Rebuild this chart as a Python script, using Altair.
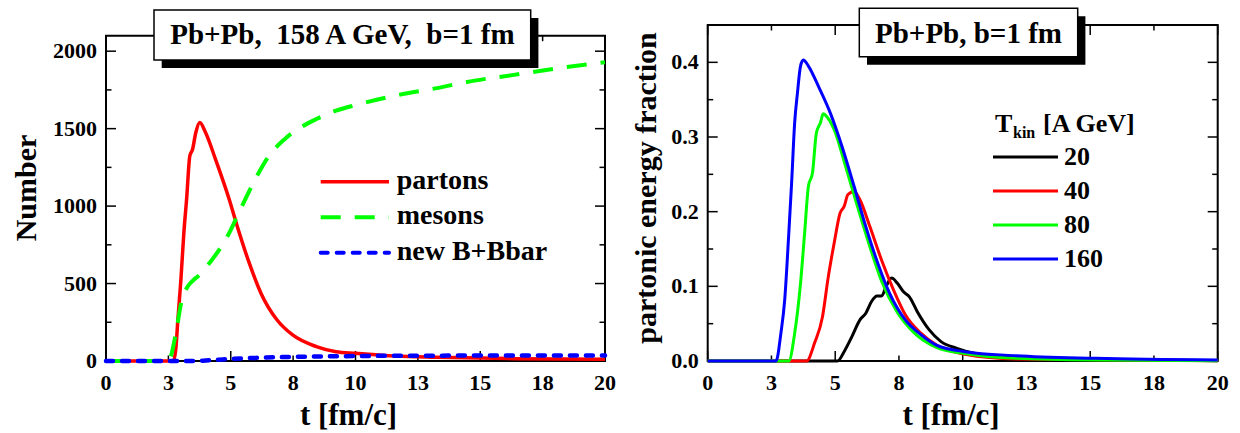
import altair as alt
import pandas as pd

# ---------------- data ----------------
# left panel: Pb+Pb 158 A GeV, b=1 fm
partons_t = [0, 1, 2, 2.7, 2.8, 2.88, 3.0, 3.12, 3.23, 3.36, 3.47, 3.6, 3.76, 3.99, 4.39, 4.94,
             5.26, 5.74, 6.21, 6.85, 7.48, 8.43, 9.22, 10.0, 11.6, 13.2, 16.4, 20]
partons_n = [0, 0, 0, 0, 80, 266, 520, 827, 1043, 1324, 1367, 1475, 1540, 1475, 1302, 1043,
             870, 633, 438, 266, 168, 93, 60, 50, 32, 24, 15, 11]

mesons_t = [0, 1, 2, 2.5, 2.57, 2.8, 3.04, 3.28, 3.52, 3.68, 4.15, 4.63, 4.94, 5.26, 5.58, 6.05,
            6.53, 7.16, 7.8, 8.43, 9.22, 10.0, 11.6, 13.2, 14.77, 16.35, 17.94, 20]
mesons_n = [0, 0, 0, 0, 17, 180, 395, 482, 525, 546, 633, 741, 827, 935, 1043, 1194,
            1324, 1432, 1508, 1562, 1616, 1652, 1713, 1760, 1810, 1847, 1886, 1929]

bbar_t = [0, 3.5, 4.0, 4.5, 5.0, 6.0, 7.0, 8.0, 10.0, 12.0, 15.0, 20.0]
bbar_n = [0, 0, 3, 8, 13, 20, 25, 28, 32, 34, 35, 36]

# right panel: partonic energy fraction, T_kin = 20, 40, 80, 160 A GeV
t20 = [0, 5.09, 5.35, 5.66, 5.97, 6.2, 6.43, 6.64, 6.82, 7.0, 7.21, 7.44, 7.67, 7.91, 8.22,
       8.68, 9.15, 9.77, 10.5, 12.1, 20]
f20 = [0, 0, 0.0125, 0.033, 0.055, 0.064, 0.080, 0.087, 0.087, 0.100, 0.111, 0.104, 0.093,
       0.086, 0.066, 0.042, 0.026, 0.017, 0.010, 0.005, 0.0005]

t40 = [0, 3.88, 4.19, 4.5, 4.73, 4.96, 5.19, 5.35, 5.5, 5.74, 5.97, 6.36, 6.82, 7.29, 7.75,
       8.37, 8.99, 10.08, 12.1, 20]
f40 = [0, 0, 0.024, 0.059, 0.113, 0.158, 0.198, 0.207, 0.223, 0.227, 0.216, 0.180, 0.135,
       0.095, 0.062, 0.037, 0.021, 0.009, 0.0027, 0.0004]

t80 = [0, 3.18, 3.41, 3.64, 3.8, 3.95, 4.11, 4.26, 4.42, 4.53, 4.65, 4.96, 5.43, 5.89, 6.36,
       6.82, 7.44, 8.06, 8.99, 10.08, 12.1, 15.2, 20]
f80 = [0, 0, 0.037, 0.104, 0.171, 0.234, 0.252, 0.305, 0.319, 0.331, 0.328, 0.310, 0.258,
       0.205, 0.153, 0.107, 0.065, 0.039, 0.018, 0.010, 0.0036, 0.0013, 0.0005]

t160 = [0, 2.68, 2.87, 3.02, 3.18, 3.29, 3.41, 3.52, 3.64, 3.75, 3.95, 4.34, 4.81, 5.27, 5.74,
        6.2, 6.67, 7.13, 7.75, 8.37, 8.99, 10.08, 12.1, 15.2, 20]
f160 = [0, 0, 0.037, 0.082, 0.171, 0.238, 0.319, 0.359, 0.395, 0.403, 0.395, 0.368, 0.332,
        0.287, 0.234, 0.180, 0.131, 0.091, 0.055, 0.035, 0.021, 0.0125, 0.007, 0.0036, 0.0013]

# tick values / labels
x_label_vals = [0, 2.5, 5, 7.5, 10, 12.5, 15, 17.5, 20]
x_labels = ["0", "3", "5", "8", "10", "13", "15", "18", "20"]
x_major = [0, 5, 10, 15, 20]
x_minor = [2.5, 7.5, 12.5, 17.5]
yl_major = [0, 500, 1000, 1500, 2000]
yl_labels = ["0", "500", "1000", "1500", "2000"]
yl_minor = [250, 750, 1250, 1750]
yr_major = [0, 0.1, 0.2, 0.3, 0.4]
yr_labels = ["0.0", "0.1", "0.2", "0.3", "0.4"]
yr_minor = [0.05, 0.15, 0.25, 0.35]

left_legend = ["partons", "mesons", "new B+Bbar"]
right_legend = ["20", "40", "80", "160"]
left_title = "Pb+Pb,\u00a0 158 A GeV,\u00a0 b=1 fm"
right_title = "Pb+Pb, b=1 fm"
x_title = "t [fm/c]"
yl_title = "Number"
yr_title = "partonic energy fraction"

# ---------------- layout / styling ----------------
FONT = "Liberation Serif"
RED, GREEN, BLUE, BLACK = "#ff0000", "#00ff00", "#0000ff", "#000000"
MESON_DASH = [20, 14]
BBAR_DASH = [7, 9]

# plot rectangles in page pixels: (left, right, top, bottom)
PL = (106, 605, 35.7, 361)
PR = (707.7, 1217.7, 25, 361)

one = pd.DataFrame({"k": [0]})


def scales(P, ydom):
    xs = alt.Scale(domain=[0, 20], range=[P[0], P[1]], nice=False, zero=False)
    ys = alt.Scale(domain=ydom, range=[P[3], P[2]], nice=False, zero=False)
    return xs, ys


def frame(P):
    return alt.Chart(one).mark_rect(fill="white", stroke="black", strokeWidth=2).encode(
        x=alt.value(P[0]), x2=alt.value(P[1]), y=alt.value(P[2]), y2=alt.value(P[3]))


def tick_layers(P, xs, ys, ymaj, ymin):
    layers = []
    for vals, L in ((x_major, 10), (x_minor, 5.5)):
        d = alt.Chart(pd.DataFrame({"t": vals}))
        layers.append(d.mark_rule(color="black", strokeWidth=1.5).encode(
            x=alt.X("t:Q", scale=xs, axis=None), y=alt.value(P[3]), y2=alt.value(P[3] - L)))
        layers.append(d.mark_rule(color="black", strokeWidth=1.5).encode(
            x=alt.X("t:Q", scale=xs, axis=None), y=alt.value(P[2]), y2=alt.value(P[2] + L)))
    for vals, L in ((ymaj, 10), (ymin, 5.5)):
        d = alt.Chart(pd.DataFrame({"v": vals}))
        layers.append(d.mark_rule(color="black", strokeWidth=1.5).encode(
            y=alt.Y("v:Q", scale=ys, axis=None), x=alt.value(P[0]), x2=alt.value(P[0] + L)))
        layers.append(d.mark_rule(color="black", strokeWidth=1.5).encode(
            y=alt.Y("v:Q", scale=ys, axis=None), x=alt.value(P[1]), x2=alt.value(P[1] - L)))
    return layers


def txt(text, x, y, size, align="left", baseline="alphabetic", angle=None):
    kw = dict(text=text, font=FONT, fontSize=size, fontWeight="bold", color="black",
              align=align, baseline=baseline)
    if angle is not None:
        kw["angle"] = angle
    return alt.Chart(one).mark_text(**kw).encode(x=alt.value(x), y=alt.value(y))


def axis_labels(P, xs, ys, ymaj, ylabs, xtitle_cx):
    xl = alt.Chart(pd.DataFrame({"t": x_label_vals, "lab": x_labels})).mark_text(
        font=FONT, fontSize=22, fontWeight="bold", color="black", align="center",
        baseline="alphabetic").encode(
        x=alt.X("t:Q", scale=xs, axis=None), y=alt.value(P[3] + 29), text="lab:N")
    yl = alt.Chart(pd.DataFrame({"v": ymaj, "lab": ylabs})).mark_text(
        font=FONT, fontSize=22, fontWeight="bold", color="black", align="right",
        baseline="middle").encode(
        y=alt.Y("v:Q", scale=ys, axis=None), x=alt.value(P[0] - 9), text="lab:N")
    return [xl, yl, txt(x_title, xtitle_cx, 425, 31, align="center")]


def title_box(x1, x2, y1, y2, cx, base, text):
    shadow = alt.Chart(one).mark_rect(fill="black").encode(
        x=alt.value(x1 + 7.7), x2=alt.value(x2 + 7.7), y=alt.value(y1 + 8), y2=alt.value(y2 + 8))
    box = alt.Chart(one).mark_rect(fill="white", stroke="black", strokeWidth=1.5).encode(
        x=alt.value(x1), x2=alt.value(x2), y=alt.value(y1), y2=alt.value(y2))
    return [shadow, box, txt(text, cx, base, 29, align="center")]


def legend_row(x1, x2, y, tx, label, color, dash, width, fs, off):
    kw = dict(color=color, strokeWidth=width)
    if dash:
        kw["strokeDash"] = dash
        kw["strokeCap"] = "round" if dash == BBAR_DASH else "butt"
    line = alt.Chart(one).mark_rule(**kw).encode(
        x=alt.value(x1), x2=alt.value(x2), y=alt.value(y))
    return [line, txt(label, tx, y + off, fs)]


def series(tv, nv):
    return pd.DataFrame({"t": tv, "v": nv})


# ---------------- left panel ----------------
xsL, ysL = scales(PL, [0, 2100])
XL = alt.X("t:Q", scale=xsL, axis=None)
YL = alt.Y("v:Q", scale=ysL, axis=None)

lines_left = [
    alt.Chart(series(partons_t, partons_n)).mark_line(
        color=RED, strokeWidth=3.5, interpolate="monotone").encode(x=XL, y=YL),
    alt.Chart(series(mesons_t, mesons_n)).mark_line(
        color=GREEN, strokeWidth=4, strokeDash=MESON_DASH, interpolate="monotone").encode(x=XL, y=YL),
    alt.Chart(series(bbar_t, bbar_n)).mark_line(
        color=BLUE, strokeWidth=4.5, strokeDash=BBAR_DASH, strokeCap="round",
        interpolate="monotone").encode(x=XL, y=YL),
]

leg_l = []
for i, (lab, col, dash) in enumerate(zip(left_legend, [RED, GREEN, BLUE],
                                         [None, MESON_DASH, BBAR_DASH])):
    leg_l += legend_row(320.7, 389, 181.7 + i * 35.5, 396.7, lab, col, dash,
                        4 if dash else 3.5, 28, 7)

left_layers = [
    frame(PL),
    *tick_layers(PL, xsL, ysL, yl_major, yl_minor),
    *lines_left,
    *axis_labels(PL, xsL, ysL, yl_major, yl_labels, 348.5),
    txt(yl_title, 35.6, 188, 30, align="center", angle=270),
    *leg_l,
    *title_box(154, 530.7, 10, 60, 342.4, 44.3, left_title),
]

# ---------------- right panel ----------------
xsR, ysR = scales(PR, [0, 0.45])
XR = alt.X("t:Q", scale=xsR, axis=None)
YR = alt.Y("v:Q", scale=ysR, axis=None)

lines_right = []
for tv, fv, col in ((t20, f20, BLACK), (t40, f40, RED), (t80, f80, GREEN), (t160, f160, BLUE)):
    lines_right.append(alt.Chart(series(tv, fv)).mark_line(
        color=col, strokeWidth=3, interpolate="monotone").encode(x=XR, y=YR))

leg_r = []
for i, (lab, col) in enumerate(zip(right_legend, [BLACK, RED, GREEN, BLUE])):
    leg_r += legend_row(993, 1058, 157 + i * 34, 1064, lab, col, None, 3, 26, 8)

right_layers = [
    frame(PR),
    *tick_layers(PR, xsR, ysR, yr_major, yr_minor),
    *lines_right,
    *axis_labels(PR, xsR, ysR, yr_major, yr_labels, 951),
    txt(yr_title, 655.7, 188, 30, align="center", angle=270),
    *leg_r,
    txt("T", 995, 132, 26),
    txt("kin", 1013, 138, 16),
    txt("[A GeV]", 1043, 132, 26),
    *title_box(859.3, 1077.7, 8.3, 56.7, 968.5, 42.7, right_title),
]

chart = alt.layer(*left_layers, *right_layers).resolve_scale(
    x="independent", y="independent"
).properties(
    width=1240, height=433,
    autosize=alt.AutoSizeParams(type="none"),
    padding=0,
    background="white",
).configure_view(strokeWidth=0)

chart.save("out.html", embed_options={"renderer": "svg", "actions": False})
